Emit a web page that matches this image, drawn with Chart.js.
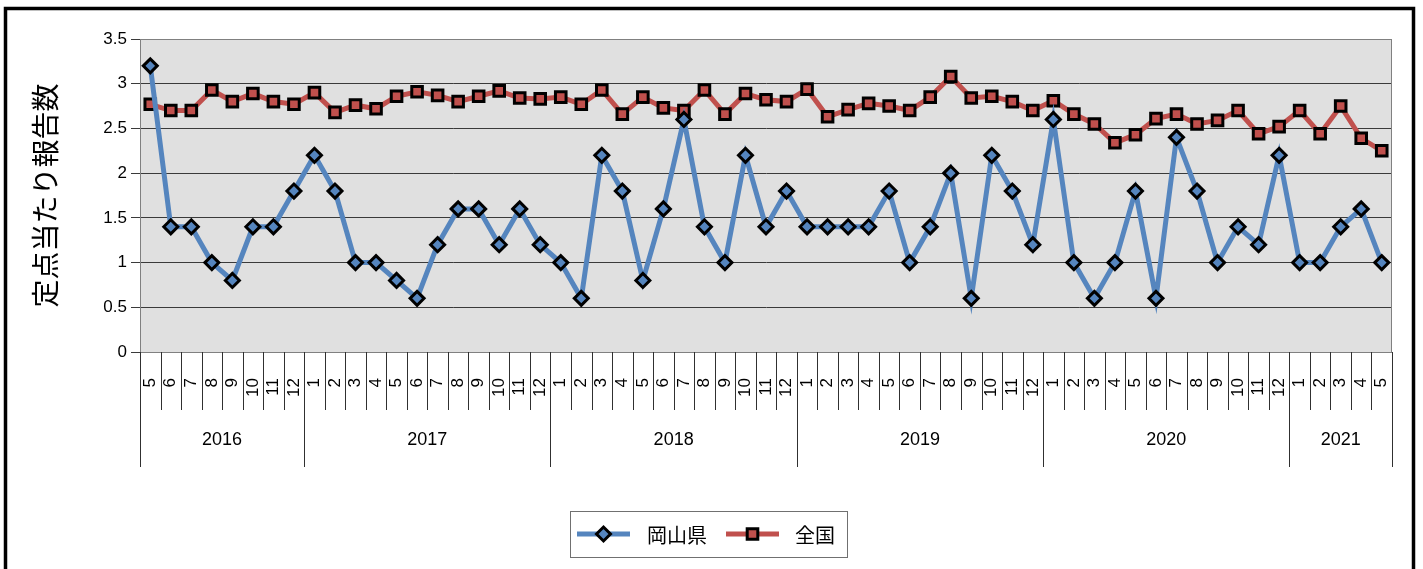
<!DOCTYPE html>
<html>
<head>
<meta charset="utf-8">
<script src="https://cdn.jsdelivr.net/npm/chart.js@4/dist/chart.umd.min.js"></script>
<style>
  body { margin: 0; background: #fff; }
  canvas { display: block; }
</style>
</head>
<body>
<canvas id="chart" width="1423" height="569"></canvas>
<script>
// month labels, 2016-5 .. 2021-5
const monthLabels = [
    '5', '6', '7', '8', '9', '10', '11', '12',
    '1', '2', '3', '4', '5', '6', '7', '8', '9', '10', '11', '12',
    '1', '2', '3', '4', '5', '6', '7', '8', '9', '10', '11', '12',
    '1', '2', '3', '4', '5', '6', '7', '8', '9', '10', '11', '12',
    '1', '2', '3', '4', '5', '6', '7', '8', '9', '10', '11', '12',
    '1', '2', '3', '4', '5'
];
const yearLabels = ['2016', '2017', '2018', '2019', '2020', '2021'];
const yearSpans = [8, 12, 12, 12, 12, 5];

const okayama = [
    3.2, 1.4, 1.4, 1.0, 0.8, 1.4, 1.4, 1.8,
    2.2, 1.8, 1.0, 1.0, 0.8, 0.6, 1.2, 1.6, 1.6, 1.2, 1.6, 1.2,
    1.0, 0.6, 2.2, 1.8, 0.8, 1.6, 2.6, 1.4, 1.0, 2.2, 1.4, 1.8,
    1.4, 1.4, 1.4, 1.4, 1.8, 1.0, 1.4, 2.0, 0.6, 2.2, 1.8, 1.2,
    2.6, 1.0, 0.6, 1.0, 1.8, 0.6, 2.4, 1.8, 1.0, 1.4, 1.2, 2.2,
    1.0, 1.0, 1.4, 1.6, 1.0
];
const national = [
    2.77, 2.70, 2.70, 2.93, 2.80, 2.89, 2.80, 2.77,
    2.90, 2.68, 2.76, 2.72, 2.86, 2.91, 2.87, 2.80, 2.86, 2.92, 2.84, 2.83,
    2.85, 2.77, 2.93, 2.66, 2.85, 2.73, 2.70, 2.93, 2.66, 2.89, 2.82, 2.80,
    2.94, 2.63, 2.71, 2.78, 2.75, 2.70, 2.85, 3.08, 2.84, 2.86, 2.80, 2.70,
    2.81, 2.66, 2.55, 2.34, 2.43, 2.61, 2.66, 2.55, 2.59, 2.70, 2.44, 2.52,
    2.70, 2.44, 2.75, 2.39, 2.25
];

const yTitle = '定点当たり報告数';
const seriesNames = ['岡山県', '全国'];

const BLUE = '#5585BE';
const RED = '#C0504D';
const JP_FONT = "'Noto Sans CJK JP', sans-serif";

Chart.defaults.font.family = "'Liberation Sans', Arial, sans-serif";
Chart.defaults.color = '#000';

// frame, plot background, month/year separators, title and legend
const decorPlugin = {
    id: 'decor',
    beforeDraw(chart) {
        const { ctx, chartArea: a } = chart;
        ctx.save();
        ctx.fillStyle = '#E0E0E0';
        ctx.fillRect(a.left, a.top, a.right - a.left, a.bottom - a.top);
        ctx.restore();
    },
    afterDraw(chart) {
        const { ctx, chartArea: a } = chart;
        const x = chart.scales.x;
        const n = monthLabels.length;
        const edge = (i) => {
            if (i <= 0) return a.left;
            if (i >= n) return a.right;
            return (x.getPixelForValue(i - 1) + x.getPixelForValue(i)) / 2;
        };

        ctx.save();
        // plot border
        ctx.strokeStyle = '#808080';
        ctx.lineWidth = 1;
        ctx.strokeRect(a.left + 0.5, a.top + 0.5, a.right - a.left - 1, a.bottom - a.top);

        // month separators
        ctx.strokeStyle = '#303030';
        ctx.beginPath();
        for (let i = 0; i <= n; i++) {
            const px = Math.round(edge(i)) + 0.5;
            ctx.moveTo(px, a.bottom);
            ctx.lineTo(px, a.bottom + 58);
        }
        ctx.stroke();

        // year separators and labels
        ctx.font = "18px 'Liberation Sans', Arial, sans-serif";
        ctx.fillStyle = '#000';
        ctx.textAlign = 'center';
        ctx.textBaseline = 'middle';
        let start = 0;
        ctx.beginPath();
        for (let k = 0; k <= yearSpans.length; k++) {
            const px = Math.round(edge(start)) + 0.5;
            ctx.moveTo(px, a.bottom + 58);
            ctx.lineTo(px, a.bottom + 115);
            if (k < yearSpans.length) {
                const end = start + yearSpans[k];
                ctx.fillText(yearLabels[k], (edge(start) + edge(end)) / 2, a.bottom + 88);
                start = end;
            }
        }
        ctx.stroke();

        // y title
        ctx.save();
        ctx.translate(45, (a.top + a.bottom) / 2);
        ctx.rotate(-Math.PI / 2);
        ctx.font = '28px ' + JP_FONT;
        ctx.fillText(yTitle, 0, 0);
        ctx.restore();

        // outer frame
        ctx.strokeStyle = '#000';
        ctx.lineWidth = 3.5;
        ctx.strokeRect(5.5, 8.5, 1408, 600);

        // legend
        const lx = 570, ly = 511, lw = 277, lh = 46;
        ctx.lineWidth = 1;
        ctx.strokeStyle = '#707070';
        ctx.strokeRect(lx + 0.5, ly + 0.5, lw, lh);
        const cy = ly + lh / 2;
        const items = [
            { x: 577, color: BLUE, style: 'rectRot', r: 7, text: seriesNames[0], tx: 647 },
            { x: 726, color: RED, style: 'rect', r: 7.5, text: seriesNames[1], tx: 795 }
        ];
        ctx.font = '20px ' + JP_FONT;
        ctx.textAlign = 'left';
        items.forEach(it => {
            ctx.strokeStyle = it.color;
            ctx.lineWidth = 5;
            ctx.beginPath();
            ctx.moveTo(it.x, cy);
            ctx.lineTo(it.x + 53, cy);
            ctx.stroke();
            ctx.fillStyle = it.color;
            ctx.strokeStyle = '#000';
            ctx.lineWidth = 3;
            Chart.helpers.drawPoint(ctx, { pointStyle: it.style, radius: it.r, borderWidth: 3, rotation: 0 }, it.x + 26.5, cy);
            ctx.fillStyle = '#000';
            ctx.fillText(it.text, it.tx, cy + 1);
        });
        ctx.restore();
    }
};

new Chart(document.getElementById('chart'), {
    type: 'line',
    data: {
        labels: monthLabels,
        datasets: [{
            label: seriesNames[0],
            data: okayama,
            borderColor: BLUE,
            backgroundColor: BLUE,
            borderWidth: 5,
            pointStyle: 'rectRot',
            pointRadius: 7,
            pointBorderColor: '#000',
            pointBorderWidth: 3,
            pointBackgroundColor: BLUE,
            tension: 0
        }, {
            label: seriesNames[1],
            data: national,
            borderColor: RED,
            backgroundColor: RED,
            borderWidth: 5,
            pointStyle: 'rect',
            pointRadius: 7.5,
            pointBorderColor: '#000',
            pointBorderWidth: 3,
            pointBackgroundColor: RED,
            tension: 0
        }]
    },
    options: {
        responsive: false,
        animation: false,
        devicePixelRatio: 1,
        layout: { padding: { left: 0, top: 39, right: 31, bottom: 0 } },
        plugins: {
            legend: { display: false },
            tooltip: { enabled: false }
        },
        scales: {
            x: {
                offset: true,
                grid: { display: false },
                border: { display: false },
                ticks: {
                    autoSkip: false,
                    maxRotation: 90,
                    minRotation: 90,
                    padding: 18,
                    font: { size: 17 }
                },
                afterFit(scale) { scale.height = 217; }
            },
            y: {
                min: 0,
                max: 3.5,
                ticks: {
                    stepSize: 0.5,
                    padding: 4,
                    font: { size: 17 },
                    callback: (value) => String(value)
                },
                grid: { color: '#3a3a3a', lineWidth: 1, tickLength: 9 },
                border: { display: true, color: '#808080' },
                afterFit(scale) { scale.width = 140; }
            }
        }
    },
    plugins: [decorPlugin]
});
</script>
</body>
</html>
